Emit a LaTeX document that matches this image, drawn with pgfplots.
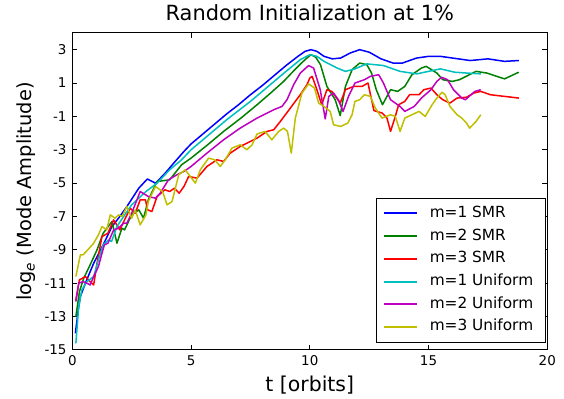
\documentclass[border=0pt]{standalone}
\usepackage{fontspec}
\setmainfont{DejaVu Sans}
\usepackage{pgfplots}
\pgfplotsset{compat=1.18}

\definecolor{mplblue}{rgb}{0,0,1}
\definecolor{mplgreen}{rgb}{0,0.5,0}
\definecolor{mplred}{rgb}{1,0,0}
\definecolor{mplcyan}{rgb}{0,0.75,0.75}
\definecolor{mplmagenta}{rgb}{0.75,0,0.75}
\definecolor{mplyellow}{rgb}{0.75,0.75,0}

\newcommand{\entry}[1]{\makebox[109.4bp][l]{#1}}

\pgfplotsset{
  curve/.style={draw=#1, line width=1.5bp, line join=round, mark=none},
}

\begin{document}
\begin{tikzpicture}
\begin{axis}[
  scale only axis,
  width=475bp, height=317bp,
  xmin=0, xmax=20, ymin=-15, ymax=4,
  xtick={0,5,10,15,20},
  xticklabels={0,5,10,15,20},
  ytick={-15,-13,-11,-9,-7,-5,-3,-1,1,3},
  yticklabels={-15,-13,-11,-9,-7,-5,-3,-1,1,3},
  tick align=inside,
  tick pos=both,
  major tick length=5bp,
  tick style={draw=black, line width=1bp},
  axis line style={draw=black, line width=1bp},
  ticklabel style={font=\fontsize{13.5}{16}\selectfont},
  xticklabel style={anchor=base, yshift=-16bp},
  yticklabel style={anchor=east, inner xsep=0bp, xshift=-5.6bp},
  title={Random Initialization at 1\%},
  title style={at={(axis description cs:0.5,1)}, anchor=base, yshift=6.3bp,
    font=\fontsize{21}{25}\selectfont},
  xlabel={t [orbits]},
  xlabel style={at={(axis description cs:0.5,0)}, anchor=base, yshift=-42bp,
    font=\fontsize{20.5}{24}\selectfont},
  ylabel={log\textsubscript{\itshape e} (Mode Amplitude)},
  ylabel style={at={(axis description cs:-0.0859,0.5)}, anchor=base,
    font=\fontsize{19.5}{23}\selectfont},
  legend cell align=left,
  legend image code/.code={%
    \draw[#1, line width=2bp] (0bp,0bp) -- (33bp,0bp);
    \path (45.3bp,0bp);},
  legend style={at={(axis description cs:1,0)}, anchor=south east,
    xshift=-1.6bp, yshift=7.3bp, draw=black, line width=1bp,
    inner xsep=6bp, inner ysep=8bp, row sep=8.2bp,
    font=\fontsize{15.4}{18}\selectfont,
    nodes={inner sep=0bp, text height=11.3bp, text depth=3.2bp}},
]

% m=1 SMR
\addplot[curve=mplblue] coordinates {
(0.13,-14.0)(0.25,-12.6)(0.34,-11.8)(0.55,-11.0)(0.9,-9.8)(1.3,-8.7)(1.67,-7.6)
(2.0,-7.0)(2.3,-6.4)(2.8,-5.3)(3.16,-4.75)(3.5,-5.0)(3.85,-4.5)(4.27,-3.8)
(4.7,-3.1)(5.0,-2.65)(5.5,-2.05)(6.0,-1.45)(6.5,-0.85)(7.0,-0.3)(7.5,0.3)
(8.0,0.85)(8.5,1.45)(9.0,2.05)(9.5,2.6)(9.8,2.9)(10.05,3.0)(10.3,2.9)
(10.6,2.6)(10.95,2.45)(11.3,2.5)(11.7,2.8)(12.1,3.0)(12.5,2.85)(13.0,2.45)
(13.5,2.2)(13.9,2.2)(14.5,2.5)(15.0,2.6)(15.5,2.6)(16.0,2.5)(16.75,2.35)
(17.5,2.45)(18.2,2.3)(18.8,2.35)};
\addlegendentry{\entry{m=1 SMR}}

% m=2 SMR
\addplot[curve=mplgreen] coordinates {
(0.15,-13.0)(0.3,-11.5)(0.48,-10.7)(0.75,-9.9)(1.04,-9.0)(1.3,-8.0)(1.67,-7.3)
(1.88,-8.6)(2.09,-7.7)(2.2,-7.8)(2.5,-6.9)(2.8,-6.6)(3.0,-7.1)(3.2,-6.0)
(3.57,-4.9)(4.1,-4.8)(4.6,-3.9)(5.0,-3.5)(5.7,-2.7)(6.37,-1.9)(7.1,-1.1)
(7.78,-0.3)(8.35,0.4)(8.9,1.1)(9.3,1.7)(9.65,2.2)(9.88,2.5)(10.05,2.7)
(10.25,2.55)(10.45,2.1)(10.72,0.8)(11.07,0.0)(11.28,-0.95)(11.5,0.8)
(11.78,1.8)(12.1,2.2)(12.4,2.1)(12.6,1.6)(12.8,0.6)(13.06,-0.3)(13.4,0.6)
(13.7,0.5)(14.0,0.8)(14.3,1.5)(14.7,1.9)(14.9,2.0)(15.35,1.6)(15.6,1.2)
(16.0,1.1)(16.3,1.2)(17.0,1.7)(17.45,1.6)(18.2,1.25)(18.8,1.65)};
\addlegendentry{\entry{m=2 SMR}}

% m=3 SMR
\addplot[curve=mplred] coordinates {
(0.15,-12.0)(0.3,-10.8)(0.55,-10.6)(0.75,-10.9)(0.9,-11.1)(1.04,-9.8)
(1.25,-8.2)(1.5,-8.0)(1.74,-7.2)(2.0,-7.8)(2.2,-7.2)(2.44,-6.5)(2.65,-6.8)
(2.86,-6.0)(3.08,-6.0)(3.17,-6.6)(3.35,-6.7)(3.57,-5.8)(3.9,-5.4)(4.1,-5.5)
(4.3,-5.3)(4.5,-5.6)(4.7,-5.2)(4.9,-4.6)(5.25,-4.7)(5.67,-4.0)(6.09,-3.6)
(6.37,-3.7)(6.65,-3.2)(7.07,-2.8)(7.5,-2.5)(7.78,-2.3)(8.2,-1.9)(8.48,-1.8)
(8.76,-1.3)(9.18,-0.5)(9.6,0.3)(9.88,0.9)(10.0,1.3)(10.1,1.4)(10.3,0.6)
(10.5,-0.3)(10.72,0.6)(10.93,0.5)(11.28,-0.2)(11.5,0.6)(11.85,0.8)(12.2,0.8)
(12.45,1.0)(12.7,-0.65)(13.05,-0.8)(13.25,-1.1)(13.4,-1.9)(13.6,-1.0)
(13.74,-0.3)(14.0,-0.1)(14.2,0.3)(14.6,0.3)(14.8,0.6)(15.1,0.7)(15.35,0.3)
(15.6,0.0)(15.9,-0.2)(16.2,0.1)(16.6,0.15)(16.9,0.4)(17.2,0.5)(17.6,0.3)
(18.2,0.2)(18.8,0.1)};
\addlegendentry{\entry{m=3 SMR}}

% m=1 Uniform
\addplot[curve=mplcyan] coordinates {
(0.15,-14.6)(0.27,-12.4)(0.4,-11.4)(0.62,-10.9)(0.9,-10.6)(1.1,-9.6)(1.3,-8.7)
(1.53,-8.4)(1.65,-8.5)(1.88,-7.6)(2.16,-7.0)(2.5,-6.3)(3.1,-5.5)(3.57,-5.0)
(4.1,-4.2)(4.6,-3.6)(5.0,-3.0)(5.5,-2.4)(6.0,-1.8)(6.5,-1.2)(7.0,-0.65)
(7.5,-0.1)(8.0,0.5)(8.5,1.1)(9.0,1.7)(9.3,2.05)(9.6,2.4)(10.0,2.7)(10.3,2.6)
(10.6,2.3)(11.15,1.9)(11.5,1.7)(11.9,1.85)(12.4,2.15)(13.1,2.05)(13.8,1.7)
(14.5,1.55)(15.0,1.7)(15.5,1.85)(16.1,1.65)(16.6,1.6)(17.2,1.55)};
\addlegendentry{\entry{m=1 Uniform}}

% m=2 Uniform
\addplot[curve=mplmagenta] coordinates {
(0.15,-12.1)(0.27,-11.0)(0.45,-10.9)(0.62,-11.0)(0.75,-11.1)(0.9,-10.6)
(1.1,-10.0)(1.25,-9.2)(1.35,-8.7)(1.5,-8.6)(1.74,-7.8)(1.95,-7.7)(2.16,-7.4)
(2.3,-7.4)(2.5,-6.8)(2.86,-5.5)(3.2,-5.8)(3.5,-5.9)(3.7,-5.6)(4.05,-4.8)
(4.4,-4.5)(4.7,-4.3)(5.0,-4.0)(5.67,-3.2)(6.37,-2.4)(7.07,-1.7)(7.78,-1.1)
(8.48,-0.6)(8.83,-0.4)(9.04,0.0)(9.32,0.9)(9.6,1.6)(9.95,2.05)(10.16,1.9)
(10.44,0.6)(10.65,-1.15)(10.8,0.2)(11.0,0.4)(11.2,0.0)(11.4,-0.7)(11.63,0.2)
(11.9,1.0)(12.3,1.2)(12.55,1.4)(12.9,1.5)(13.1,1.0)(13.4,0.0)(13.8,-0.4)
(14.0,-0.7)(14.4,-0.4)(14.7,0.1)(15.1,0.6)(15.35,1.1)(15.55,1.35)(15.8,1.2)
(16.05,0.6)(16.4,0.1)(16.55,0.0)(16.75,0.25)(16.95,0.5)(17.2,0.6)};
\addlegendentry{\entry{m=2 Uniform}}

% m=3 Uniform
\addplot[curve=mplyellow] coordinates {
(0.15,-10.6)(0.34,-9.3)(0.45,-9.3)(0.65,-9.0)(0.9,-8.6)(1.1,-8.1)(1.25,-7.6)
(1.45,-7.8)(1.6,-6.9)(1.8,-7.1)(1.95,-6.9)(2.1,-7.0)(2.3,-6.4)(2.5,-7.1)
(2.65,-6.6)(2.86,-7.5)(3.1,-6.9)(3.2,-6.1)(3.5,-5.2)(3.8,-5.5)(3.99,-6.3)
(4.2,-6.1)(4.48,-4.5)(4.75,-4.2)(4.97,-4.6)(5.18,-5.0)(5.39,-4.2)(5.74,-3.5)
(6.0,-3.6)(6.23,-4.0)(6.44,-3.6)(6.72,-2.9)(7.07,-2.7)(7.35,-3.0)(7.57,-2.7)
(7.78,-2.05)(8.12,-1.9)(8.4,-2.4)(8.69,-1.9)(8.9,-1.7)(9.06,-1.9)(9.22,-3.2)
(9.39,-1.1)(9.67,0.4)(9.95,0.95)(10.2,0.7)(10.37,-0.2)(10.6,-0.4)(10.86,-0.7)
(11.0,-1.5)(11.3,-1.6)(11.6,-1.4)(11.78,-0.9)(11.9,-0.1)(12.1,0.0)(12.3,0.3)
(12.55,0.2)(12.76,-0.5)(13.04,-1.1)(13.4,-0.9)(13.6,-1.0)(13.8,-1.9)(14.0,-1.1)
(14.3,-0.9)(14.6,-0.7)(14.86,-1.0)(15.15,-0.3)(15.35,0.1)(15.57,0.45)(15.7,0.3)
(15.9,-0.4)(16.2,-0.9)(16.4,-1.1)(16.6,-1.4)(16.73,-1.7)(17.0,-1.3)(17.2,-0.9)};
\addlegendentry{\entry{m=3 Uniform}}

\end{axis}
\path[use as bounding box] (-72.3bp,-46bp) rectangle (491.7bp,350bp);
\end{tikzpicture}
\end{document}
